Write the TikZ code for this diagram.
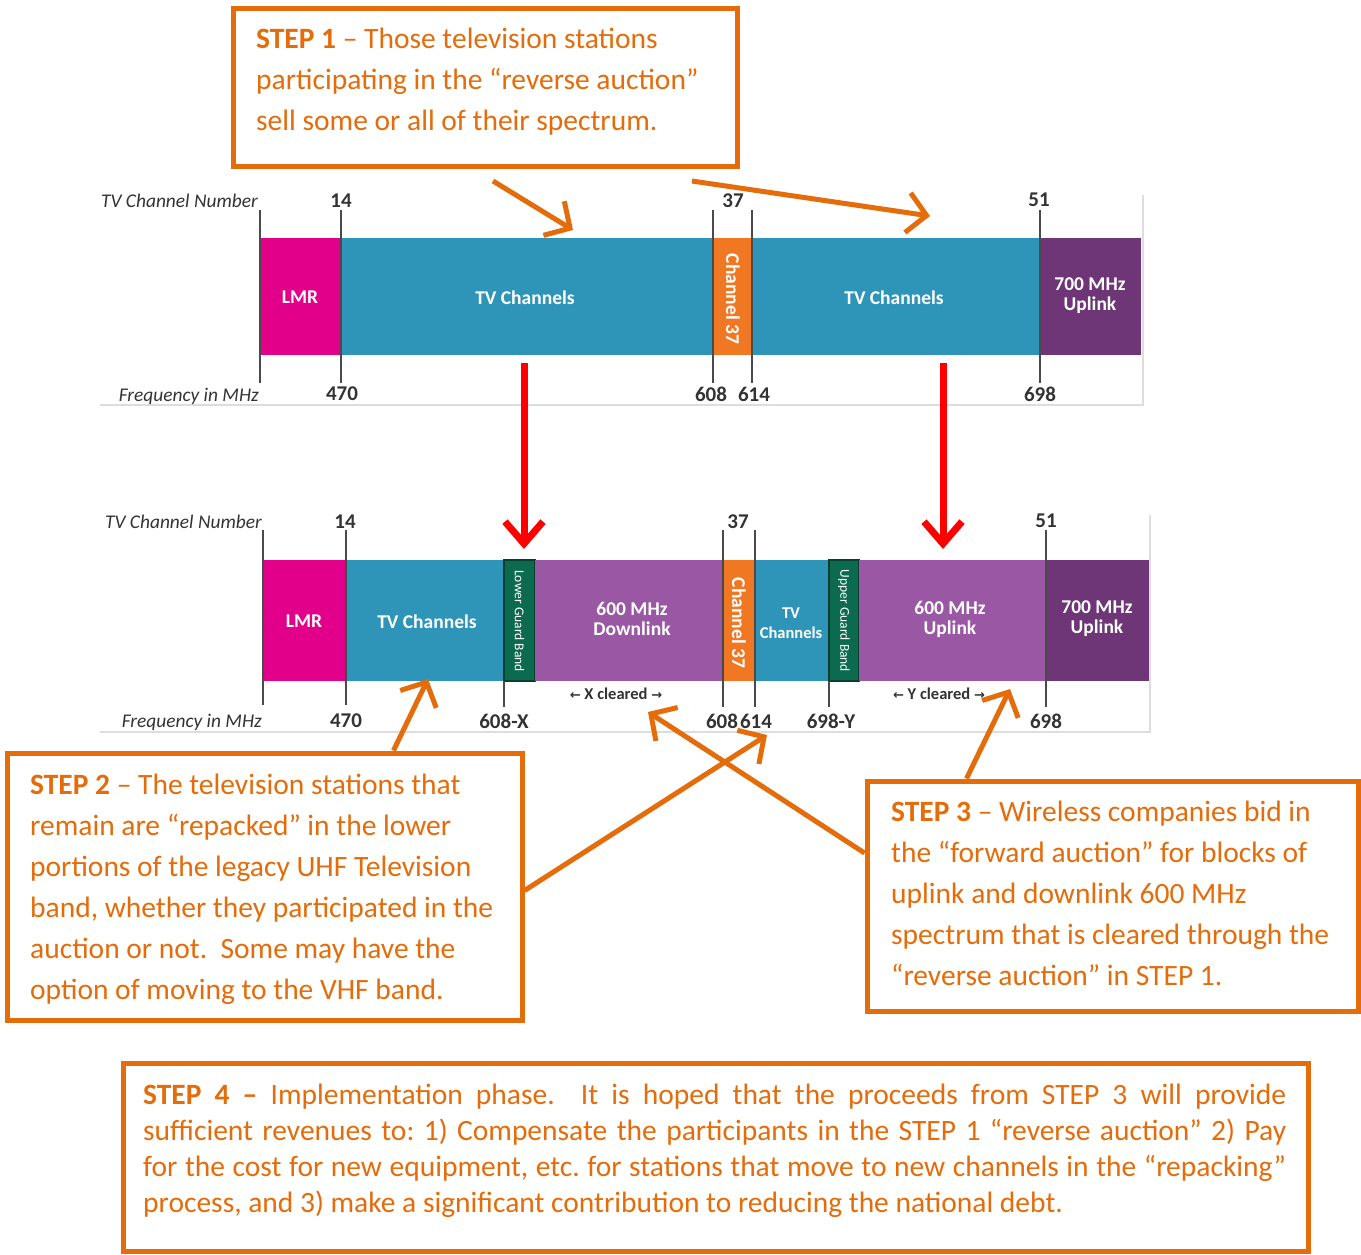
\documentclass[tikz,border=0pt]{standalone}
\usepackage{fontspec}
\setmainfont{Carlito}
\newfontfamily\arrowfont{DejaVu Sans}
\usetikzlibrary{arrows.meta,calc}
\frenchspacing
\definecolor{boxor}{HTML}{E46C0A}
\definecolor{cmag}{HTML}{E2008A}
\definecolor{cteal}{HTML}{2F95B8}
\definecolor{corg}{HTML}{F07823}
\definecolor{cdpur}{HTML}{6E3677}
\definecolor{clpur}{HTML}{9A58A4}
\definecolor{cgreen}{HTML}{0C6B4F}
\definecolor{cdgreen}{HTML}{063F2E}
\definecolor{ctick}{HTML}{4A4A4A}
\definecolor{cframe}{HTML}{DDDDDD}
\definecolor{clab}{HTML}{333333}
\newcommand\segfont{\fontsize{19.5}{21}\selectfont\bfseries}
\newcommand\numfont{\fontsize{21}{22}\selectfont\bfseries}
\begin{document}
\begin{tikzpicture}[x=1pt,y=-1pt,
  seg/.style={rectangle, inner sep=0pt, outer sep=0pt},
  segA/.style={seg, minimum height=117pt},
  segB/.style={seg, minimum height=121pt},
  seglab/.style={inner sep=0pt, text=white, font=\segfont, align=center},
  tickln/.style={draw=ctick, line width=1.6pt},
  framel/.style={draw=cframe, line width=1.5pt},
  numlab/.style={inner sep=0pt, text=clab, font=\numfont},
  axlab/.style={inner sep=0pt, anchor=east, text=clab, font=\fontsize{19.4}{21}\selectfont\itshape},
  guard/.style={seg, minimum height=121pt, fill=cgreen, draw=cdgreen, line width=1.2pt},
  guardtxt/.style={inner sep=0pt, rotate=-90, text=white, font=\fontsize{13.5}{14}\selectfont},
  chlab/.style={inner sep=0pt, rotate=-90, text=white, font=\fontsize{19.5}{21}\selectfont\bfseries},
  clr/.style={inner sep=0pt, text=clab, font=\fontsize{16.5}{18}\selectfont\bfseries},
  stepbox/.style={rectangle, draw=boxor, line width=5pt, inner sep=0pt, fill=white},
  stxt/.style={inner sep=0pt, anchor=base west, text=boxor, font=\fontsize{29.5}{35}\selectfont},
  oarr/.style={draw=boxor, line width=5pt, -{Straight Barb[length=19pt,width=40pt]}},
  rarr/.style={draw=red, line width=7pt, -{Straight Barb[length=22pt,width=38pt]}}
]
\useasboundingbox (0,0) rectangle (1361,1254);

% ---------------- top band ----------------
\draw[framel] (100,405) -- (1143,405) -- (1143,195);
\node[segA, fill=cmag,  minimum width=81pt]  (lmrA) at (300.5,296.5) {};
\node[segA, fill=cteal, minimum width=372pt] (tvA)  at (527,296.5) {};
\node[segA, fill=corg,  minimum width=39pt]  (chA)  at (732.5,296.5) {};
\node[segA, fill=cteal, minimum width=288pt] (tvB)  at (896,296.5) {};
\node[segA, fill=cdpur, minimum width=101pt] (upA)  at (1090.5,296.5) {};
\node[seglab] (lmrAl) at (300,297) {LMR};
\node[seglab] (tvAl)  at (525,298) {TV Channels};
\node[chlab]  (chAl)  at (733,299) {Channel 37};
\node[seglab] (tvBl)  at (894,298) {TV Channels};
\node[seglab] (upAl)  at (1090,296) {700 MHz\\[-1pt]Uplink};

\draw[tickln] (260,210) -- (260,383);
\draw[tickln] (341,210) -- (341,383);
\draw[tickln] (713,210) -- (713,383);
\draw[tickln] (752,210) -- (752,383);
\draw[tickln] (1040,210) -- (1040,383);

\node[axlab] (tcnA) at (258,201) {TV Channel Number};
\node[axlab] (fqA)  at (259,396) {Frequency in MHz};
\node[numlab] (n14A) at (341,201) {14};
\node[numlab] (n37A) at (733,201) {37};
\node[numlab] (n51A) at (1039,200) {51};
\node[numlab] (f470A) at (342,394) {470};
\node[numlab] (f608A) at (711,394) {608};
\node[numlab] (f614A) at (754,394) {614};
\node[numlab] (f698A) at (1040,394) {698};

% ---------------- bottom band ----------------
\draw[framel] (100,732) -- (1150,732) -- (1150,515);
\node[segB, fill=cmag,  minimum width=83pt]  (lmrB) at (304.5,620.5) {};
\node[segB, fill=cteal, minimum width=158pt] (tvC)  at (425,620.5) {};
\node[guard, minimum width=31pt] (lgb) at (519.5,620.5) {};
\node[segB, fill=clpur, minimum width=188pt] (dlB) at (629,620.5) {};
\node[segB, fill=corg,  minimum width=32pt]  (chB) at (739,620.5) {};
\node[segB, fill=cteal, minimum width=74pt] (tvD) at (792,620.5) {};
\node[guard, minimum width=30pt] (ugb) at (844,620.5) {};
\node[segB, fill=clpur, minimum width=187pt] (ulB) at (952.5,620.5) {};
\node[segB, fill=cdpur, minimum width=103pt] (upB) at (1097.5,620.5) {};
\node[seglab] (lmrBl) at (304,621) {LMR};
\node[seglab] (tvCl)  at (427,622) {TV Channels};
\node[guardtxt] (lgbl) at (519.5,621) {Lower Guard Band};
\node[seglab] (dlBl)  at (632,619) {600 MHz\\[-1pt]Downlink};
\node[chlab]  (chBl)  at (739,623) {Channel 37};
\node[seglab, font=\fontsize{16.5}{18}\selectfont\bfseries] (tvDl) at (791,623) {TV\\[2pt]Channels};
\node[guardtxt] (ugbl) at (844,621) {Upper Guard Band};
\node[seglab] (ulBl)  at (950,619) {600 MHz\\[-1pt]Uplink};
\node[seglab] (upBl)  at (1097,619) {700 MHz\\[-1pt]Uplink};

\draw[tickln] (263,530) -- (263,705);
\draw[tickln] (346,530) -- (346,705);
\draw[tickln] (504,681) -- (504,707);
\draw[tickln] (723,530) -- (723,707);
\draw[tickln] (755,530) -- (755,707);
\draw[tickln] (829,681) -- (829,707);
\draw[tickln] (1046,530) -- (1046,707);

\node[axlab] (tcnB) at (262,522) {TV Channel Number};
\node[axlab] (fqB)  at (262,722) {Frequency in MHz};
\node[numlab] (n14B) at (345,522) {14};
\node[numlab] (n37B) at (738,522) {37};
\node[numlab] (n51B) at (1046,521) {51};
\node[numlab] (f470B) at (346,721) {470};
\node[numlab] (f608X) at (504,721) {608-X};
\node[numlab] (f608B) at (722,721) {608};
\node[numlab] (f614B) at (756,721) {614};
\node[numlab] (f698Y) at (831,721) {698-Y};
\node[numlab] (f698B) at (1046,721) {698};
\node[clr] (xcl) at (616,694) {{\arrowfont\fontsize{13}{14}\selectfont ←} X cleared {\arrowfont\fontsize{13}{14}\selectfont →}};
\node[clr] (ycl) at (939,694) {{\arrowfont\fontsize{13}{14}\selectfont ←} Y cleared {\arrowfont\fontsize{13}{14}\selectfont →}};

% ---------------- red arrows ----------------
\coordinate (r1s) at (524,363);
\coordinate (r1e) at (524,549);
\coordinate (r2s) at (943,363);
\coordinate (r2e) at (943,549);
\draw[rarr] (r1s) -- (r1e);
\draw[rarr] (r2s) -- (r2e);

% ---------------- step boxes ----------------
\node[stepbox, minimum width=504pt, minimum height=158pt] (s1) at (485,87) {};
\node[stepbox, minimum width=515pt, minimum height=267pt] (s2) at (264.5,886.5) {};
\node[stepbox, minimum width=491pt, minimum height=230pt] (s3) at (1112.5,896) {};
\node[stepbox, minimum width=1185pt, minimum height=188pt] (s4) at (715.5,1157) {};

\node[stxt] (s1a) at (256,48.5)  {\textbf{STEP 1} – Those television stations};
\node[stxt] (s1b) at (256,89.5)  {participating in the “reverse auction”};
\node[stxt] (s1c) at (256,130.5) {sell some or all of their spectrum.};

\node[stxt] (s2a) at (30,794)  {\textbf{STEP 2} – The television stations that};
\node[stxt] (s2b) at (30,835)  {remain are “repacked” in the lower};
\node[stxt] (s2c) at (30,876)  {portions of the legacy UHF Television};
\node[stxt] (s2d) at (30,917)  {band, whether they participated in the};
\node[stxt] (s2e) at (30,958)  {auction or not.\ \ Some may have the};
\node[stxt] (s2f) at (30,999)  {option of moving to the VHF band.};

\node[stxt] (s3a) at (891,821)  {\textbf{STEP 3} – Wireless companies bid in};
\node[stxt] (s3b) at (891,862)  {the “forward auction” for blocks of};
\node[stxt] (s3c) at (891,903)  {uplink and downlink 600 MHz};
\node[stxt] (s3d) at (891,944)  {spectrum that is cleared through the};
\node[stxt] (s3e) at (891,985)  {“reverse auction” in STEP 1.};

\node[stxt] (s4a) at (143,1104) {\makebox[1143pt][s]{\textbf{STEP 4 –} Implementation phase.\ \ It is hoped that the proceeds from STEP 3 will provide}};
\node[stxt] (s4b) at (143,1140) {\makebox[1143pt][s]{sufficient revenues to: 1) Compensate the participants in the STEP 1 “reverse auction” 2) Pay}};
\node[stxt] (s4c) at (143,1176) {\makebox[1143pt][s]{for the cost for new equipment, etc. for stations that move to new channels in the “repacking”}};
\node[stxt] (s4d) at (143,1212) {process, and 3) make a significant contribution to reducing the national debt.};

% ---------------- orange arrows ----------------
\coordinate (a1s) at (493,181);
\coordinate (a1e) at (573,230);
\coordinate (a2s) at (692,181);
\coordinate (a2e) at (930,216);
\coordinate (a3s) at ($(s2.north west)+(389,0)$);
\coordinate (a3e) at (428,679);
\coordinate (a4s) at ($(s2.east)+(0,4)$);
\coordinate (a4e) at (767,735);
\coordinate (a5s) at ($(s3.west)+(0,-43)$);
\coordinate (a5e) at (648,712);
\coordinate (a6s) at ($(s3.north west)+(102,0)$);
\coordinate (a6e) at (1010,689);
\draw[oarr] (a1s) -- (a1e);
\draw[oarr] (a2s) -- (a2e);
\draw[oarr] (a3s) -- (a3e);
\draw[oarr] (a4s) -- (a4e);
\draw[oarr] (a5s) -- (a5e);
\draw[oarr] (a6s) -- (a6e);
\end{tikzpicture}
\end{document}
